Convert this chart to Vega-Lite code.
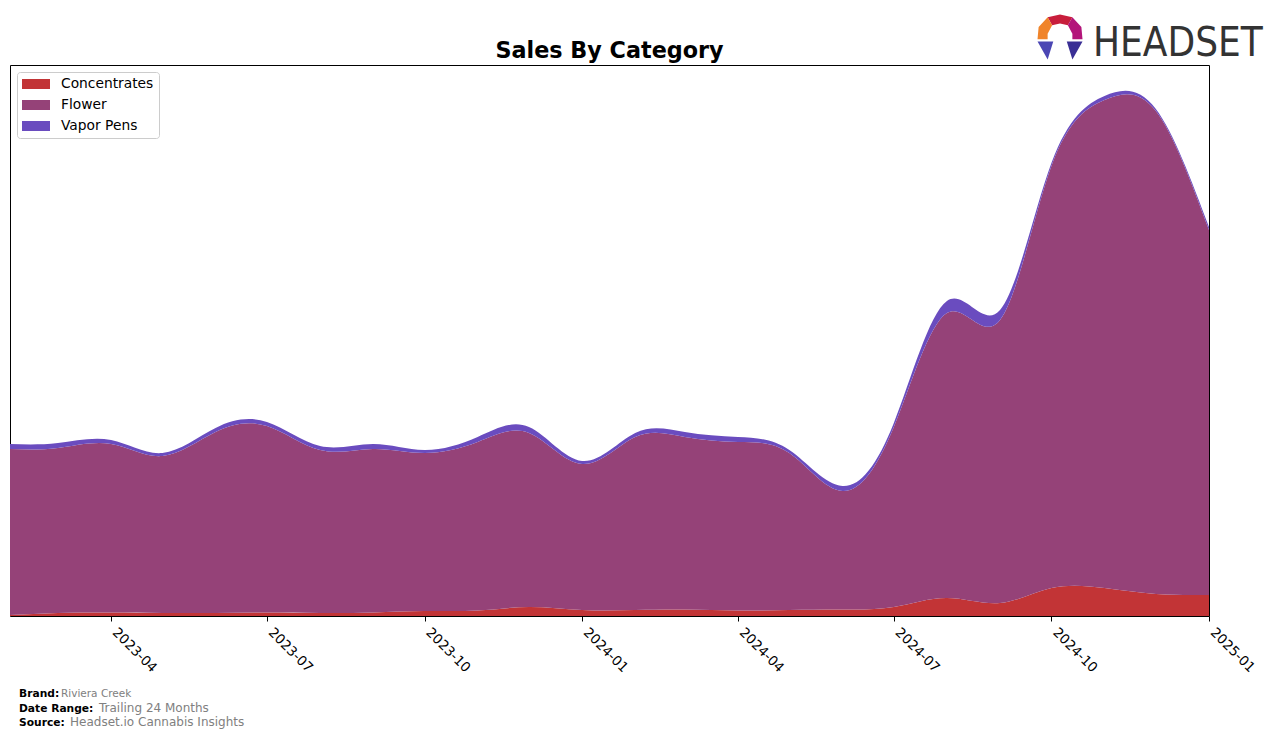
{
  "$schema": "https://vega.github.io/schema/vega-lite/v6.json",
  "width": 1199,
  "height": 551,
  "autosize": {"type": "none"},
  "padding": {"left": 10, "top": 65, "right": 67, "bottom": 124},
  "background": "white",
  "title": {"text": "Sales By Category", "font": "DejaVu Sans", "fontSize": 22.3, "fontWeight": "bold", "color": "black", "anchor": "middle", "offset": 6, "dy": 54},
  "config": {
    "view": {"stroke": "black", "strokeWidth": 1},
    "axis": {"grid": false},
    "legend": {
      "orient": "none", "legendX": 7, "legendY": 7, "title": null,
      "fillColor": "white", "strokeColor": "#cccccc", "cornerRadius": 3, "padding": 5,
      "symbolType": "M-1,-0.714H3V0.714H-1Z", "symbolSize": 196, "symbolStrokeWidth": 0, "symbolOpacity": 1,
      "labelFont": "DejaVu Sans", "labelFontSize": 13.8, "labelColor": "black", "labelOffset": 25, "rowPadding": 7
    }
  },
  "datasets": {
    "sales": [
      {"date": "2023-02-01", "category": "Concentrates", "value": 1},
      {"date": "2023-02-01", "category": "Flower", "value": 166},
      {"date": "2023-02-01", "category": "Vapor Pens", "value": 5},
      {"date": "2023-03-01", "category": "Concentrates", "value": 3},
      {"date": "2023-03-01", "category": "Flower", "value": 165},
      {"date": "2023-03-01", "category": "Vapor Pens", "value": 5},
      {"date": "2023-04-01", "category": "Concentrates", "value": 3.5},
      {"date": "2023-04-01", "category": "Flower", "value": 168.5},
      {"date": "2023-04-01", "category": "Vapor Pens", "value": 4},
      {"date": "2023-05-01", "category": "Concentrates", "value": 3},
      {"date": "2023-05-01", "category": "Flower", "value": 157},
      {"date": "2023-05-01", "category": "Vapor Pens", "value": 3},
      {"date": "2023-06-01", "category": "Concentrates", "value": 3},
      {"date": "2023-06-01", "category": "Flower", "value": 181},
      {"date": "2023-06-01", "category": "Vapor Pens", "value": 4},
      {"date": "2023-07-01", "category": "Concentrates", "value": 3.5},
      {"date": "2023-07-01", "category": "Flower", "value": 186.5},
      {"date": "2023-07-01", "category": "Vapor Pens", "value": 4},
      {"date": "2023-08-01", "category": "Concentrates", "value": 3},
      {"date": "2023-08-01", "category": "Flower", "value": 163},
      {"date": "2023-08-01", "category": "Vapor Pens", "value": 4},
      {"date": "2023-09-01", "category": "Concentrates", "value": 3.5},
      {"date": "2023-09-01", "category": "Flower", "value": 163.5},
      {"date": "2023-09-01", "category": "Vapor Pens", "value": 5},
      {"date": "2023-10-01", "category": "Concentrates", "value": 5},
      {"date": "2023-10-01", "category": "Flower", "value": 158},
      {"date": "2023-10-01", "category": "Vapor Pens", "value": 3},
      {"date": "2023-11-01", "category": "Concentrates", "value": 5.5},
      {"date": "2023-11-01", "category": "Flower", "value": 168.5},
      {"date": "2023-11-01", "category": "Vapor Pens", "value": 5},
      {"date": "2023-12-01", "category": "Concentrates", "value": 9},
      {"date": "2023-12-01", "category": "Flower", "value": 174},
      {"date": "2023-12-01", "category": "Vapor Pens", "value": 6},
      {"date": "2024-01-01", "category": "Concentrates", "value": 6},
      {"date": "2024-01-01", "category": "Flower", "value": 146},
      {"date": "2024-01-01", "category": "Vapor Pens", "value": 3},
      {"date": "2024-02-01", "category": "Concentrates", "value": 6},
      {"date": "2024-02-01", "category": "Flower", "value": 173},
      {"date": "2024-02-01", "category": "Vapor Pens", "value": 4},
      {"date": "2024-03-01", "category": "Concentrates", "value": 6.5},
      {"date": "2024-03-01", "category": "Flower", "value": 172.5},
      {"date": "2024-03-01", "category": "Vapor Pens", "value": 5},
      {"date": "2024-04-01", "category": "Concentrates", "value": 5.5},
      {"date": "2024-04-01", "category": "Flower", "value": 168.5},
      {"date": "2024-04-01", "category": "Vapor Pens", "value": 5},
      {"date": "2024-05-01", "category": "Concentrates", "value": 6},
      {"date": "2024-05-01", "category": "Flower", "value": 157},
      {"date": "2024-05-01", "category": "Vapor Pens", "value": 3},
      {"date": "2024-06-01", "category": "Concentrates", "value": 6.5},
      {"date": "2024-06-01", "category": "Flower", "value": 118.5},
      {"date": "2024-06-01", "category": "Vapor Pens", "value": 5},
      {"date": "2024-07-01", "category": "Concentrates", "value": 9},
      {"date": "2024-07-01", "category": "Flower", "value": 180},
      {"date": "2024-07-01", "category": "Vapor Pens", "value": 4},
      {"date": "2024-08-01", "category": "Concentrates", "value": 18},
      {"date": "2024-08-01", "category": "Flower", "value": 285},
      {"date": "2024-08-01", "category": "Vapor Pens", "value": 12},
      {"date": "2024-09-01", "category": "Concentrates", "value": 13},
      {"date": "2024-09-01", "category": "Flower", "value": 283},
      {"date": "2024-09-01", "category": "Vapor Pens", "value": 10},
      {"date": "2024-10-01", "category": "Concentrates", "value": 28},
      {"date": "2024-10-01", "category": "Flower", "value": 422},
      {"date": "2024-10-01", "category": "Vapor Pens", "value": 3},
      {"date": "2024-11-01", "category": "Concentrates", "value": 28},
      {"date": "2024-11-01", "category": "Flower", "value": 488},
      {"date": "2024-11-01", "category": "Vapor Pens", "value": 4},
      {"date": "2024-12-01", "category": "Concentrates", "value": 22},
      {"date": "2024-12-01", "category": "Flower", "value": 483},
      {"date": "2024-12-01", "category": "Vapor Pens", "value": 2},
      {"date": "2025-01-01", "category": "Concentrates", "value": 21},
      {"date": "2025-01-01", "category": "Flower", "value": 365},
      {"date": "2025-01-01", "category": "Vapor Pens", "value": 3}
    ]
  },
  "layer": [
    {
      "data": {"name": "sales"},
      "mark": {"type": "area", "interpolate": "natural", "opacity": 1},
      "encoding": {
        "x": {
          "field": "date", "type": "temporal",
          "scale": {"type": "utc", "domain": [{"year": 2023, "month": 2, "date": 1, "utc": true}, {"year": 2025, "month": 1, "date": 1, "utc": true}], "nice": false},
          "axis": {"title": null, "labelExpr": "utcFormat(datum.value, '%Y-%m')", "tickCount": {"interval": "month", "step": 3}, "labelAngle": 45, "labelAlign": "left", "labelBaseline": "top", "labelFont": "DejaVu Sans", "labelFontSize": 13.5, "labelColor": "black", "tickColor": "black", "tickSize": 5, "tickWidth": 1, "labelPadding": 4, "labelOffset": 8, "domain": false, "labelFlush": false, "labelOverlap": false}
        },
        "y": {"field": "value", "type": "quantitative", "stack": "zero", "scale": {"domain": [0, 551], "nice": false, "zero": true}, "axis": null},
        "color": {"field": "category", "type": "nominal", "scale": {"domain": ["Concentrates", "Flower", "Vapor Pens"], "range": ["#c23436", "#954278", "#6a4cbf"]}},
        "order": {"field": "category", "sort": "ascending"}
      }
    },
    {
      "data": {"values": [{"t": "Brand:"}]},
      "mark": {"type": "text", "font": "DejaVu Sans", "fontWeight": "bold", "fontSize": 10.7, "align": "left", "baseline": "alphabetic", "color": "black"},
      "encoding": {"text": {"field": "t"}, "x": {"value": 9}, "y": {"value": 632}}
    },
    {
      "data": {"values": [{"t": "Riviera Creek"}]},
      "mark": {"type": "text", "font": "DejaVu Sans", "fontSize": 10.5, "align": "left", "baseline": "alphabetic", "color": "#808080"},
      "encoding": {"text": {"field": "t"}, "x": {"value": 51}, "y": {"value": 632}}
    },
    {
      "data": {"values": [{"t": "Date Range:"}]},
      "mark": {"type": "text", "font": "DejaVu Sans", "fontWeight": "bold", "fontSize": 10.7, "align": "left", "baseline": "alphabetic", "color": "black"},
      "encoding": {"text": {"field": "t"}, "x": {"value": 9}, "y": {"value": 647}}
    },
    {
      "data": {"values": [{"t": "Trailing 24 Months"}]},
      "mark": {"type": "text", "font": "DejaVu Sans", "fontSize": 12, "align": "left", "baseline": "alphabetic", "color": "#808080"},
      "encoding": {"text": {"field": "t"}, "x": {"value": 89}, "y": {"value": 647}}
    },
    {
      "data": {"values": [{"t": "Source:"}]},
      "mark": {"type": "text", "font": "DejaVu Sans", "fontWeight": "bold", "fontSize": 10.7, "align": "left", "baseline": "alphabetic", "color": "black"},
      "encoding": {"text": {"field": "t"}, "x": {"value": 9}, "y": {"value": 661}}
    },
    {
      "data": {"values": [{"t": "Headset.io Cannabis Insights"}]},
      "mark": {"type": "text", "font": "DejaVu Sans", "fontSize": 12, "align": "left", "baseline": "alphabetic", "color": "#808080"},
      "encoding": {"text": {"field": "t"}, "x": {"value": 60}, "y": {"value": 661}}
    },
    {
      "data": {"values": [{"t": "HEADSET"}]},
      "mark": {"type": "text", "font": "DejaVu Sans Condensed, Roboto, sans-serif", "fontSize": 40, "align": "left", "baseline": "alphabetic", "color": "#333333"},
      "encoding": {"text": {"field": "t"}, "x": {"value": 1083}, "y": {"value": -9}}
    },
    {
      "data": {"values": [{"p": "top"}]},
      "mark": {"type": "point", "filled": true, "opacity": 1, "strokeWidth": 0, "size": 2025, "color": "#c81e3c", "shape": "M-0.55,-0.88L0,-1L0.55,-0.88L0.35,-0.52L0,-0.6L-0.35,-0.52Z"},
      "encoding": {"x": {"value": 1050}, "y": {"value": -28}}
    },
    {
      "data": {"values": [{"p": "left"}]},
      "mark": {"type": "point", "filled": true, "opacity": 1, "strokeWidth": 0, "size": 2025, "color": "#f0842a", "shape": "M-1,0.1L-0.95,-0.45L-0.55,-0.88L-0.35,-0.52L-0.55,-0.15L-0.55,0.1Z"},
      "encoding": {"x": {"value": 1050}, "y": {"value": -28}}
    },
    {
      "data": {"values": [{"p": "right"}]},
      "mark": {"type": "point", "filled": true, "opacity": 1, "strokeWidth": 0, "size": 2025, "color": "#b3157a", "shape": "M1,0.1L0.95,-0.45L0.55,-0.88L0.35,-0.52L0.55,-0.15L0.55,0.1Z"},
      "encoding": {"x": {"value": 1050}, "y": {"value": -28}}
    },
    {
      "data": {"values": [{"p": "bl"}]},
      "mark": {"type": "point", "filled": true, "opacity": 1, "strokeWidth": 0, "size": 2025, "color": "#4b46b4", "shape": "M-1,0.2L-0.3,0.2L-0.55,1Z"},
      "encoding": {"x": {"value": 1050}, "y": {"value": -28}}
    },
    {
      "data": {"values": [{"p": "br"}]},
      "mark": {"type": "point", "filled": true, "opacity": 1, "strokeWidth": 0, "size": 2025, "color": "#3a2f95", "shape": "M1,0.2L0.3,0.2L0.55,1Z"},
      "encoding": {"x": {"value": 1050}, "y": {"value": -28}}
    }
  ]
}
